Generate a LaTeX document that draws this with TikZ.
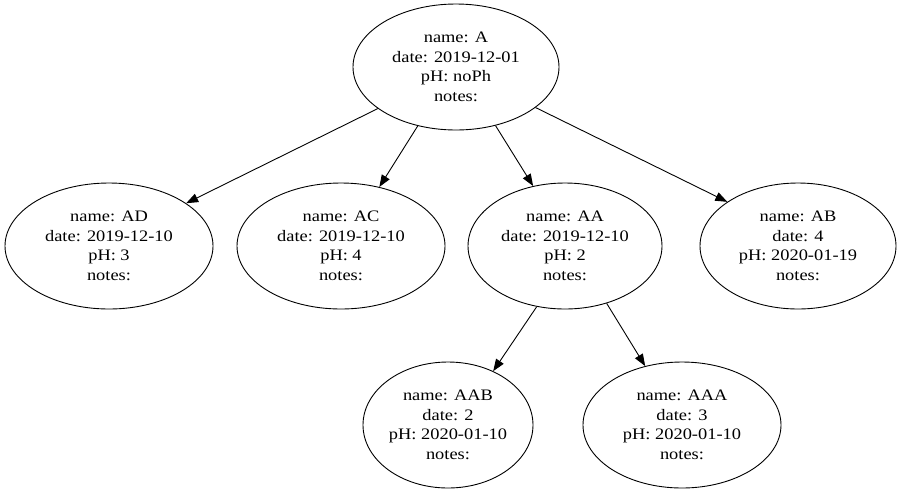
\documentclass[tikz,border=0pt]{standalone}
\usepackage{fontspec}
\setmainfont[FakeStretch=1.15]{Liberation Serif}
\usetikzlibrary{arrows.meta,shapes.geometric}
\begin{document}
\begin{tikzpicture}[x=1pt, y=-1pt, font=\fontsize{16}{19.5}\selectfont, line join=round, line width=0.9pt, >={Triangle[length=12pt,width=9pt]},
  sample/.style={ellipse, draw, align=center, inner sep=0pt, minimum height=126}]
\useasboundingbox (0,0) rectangle (902,491);
\node[sample, minimum width=206] (A) at (456,67) {name: A\\date: 2019-12-01\\pH: noPh\\notes:};
\node[sample, minimum width=208] (AD) at (109,246) {name: AD\\date: 2019-12-10\\pH: 3\\notes:};
\node[sample, minimum width=208] (AC) at (341,246) {name: AC\\date: 2019-12-10\\pH: 4\\notes:};
\node[sample, minimum width=194] (AA) at (565,246) {name: AA\\date: 2019-12-10\\pH: 2\\notes:};
\node[sample, minimum width=196] (AB) at (798,246) {name: AB\\date: 4\\pH: 2020-01-19\\notes:};
\node[sample, minimum width=170] (AAB) at (448,425) {name: AAB\\date: 2\\pH: 2020-01-10\\notes:};
\node[sample, minimum width=198] (AAA) at (682,425) {name: AAA\\date: 3\\pH: 2020-01-10\\notes:};
\draw[->] (A.-152) -- (AD.29);
\draw[->] (A.-123) -- (AC.57);
\draw[->] (A.-56) -- (AA.118);
\draw[->] (A.-27) -- (AB.148);
\draw[->] (AA.-115) -- (AAB.50);
\draw[->] (AA.-54) -- (AAA.122);
\end{tikzpicture}
\end{document}
